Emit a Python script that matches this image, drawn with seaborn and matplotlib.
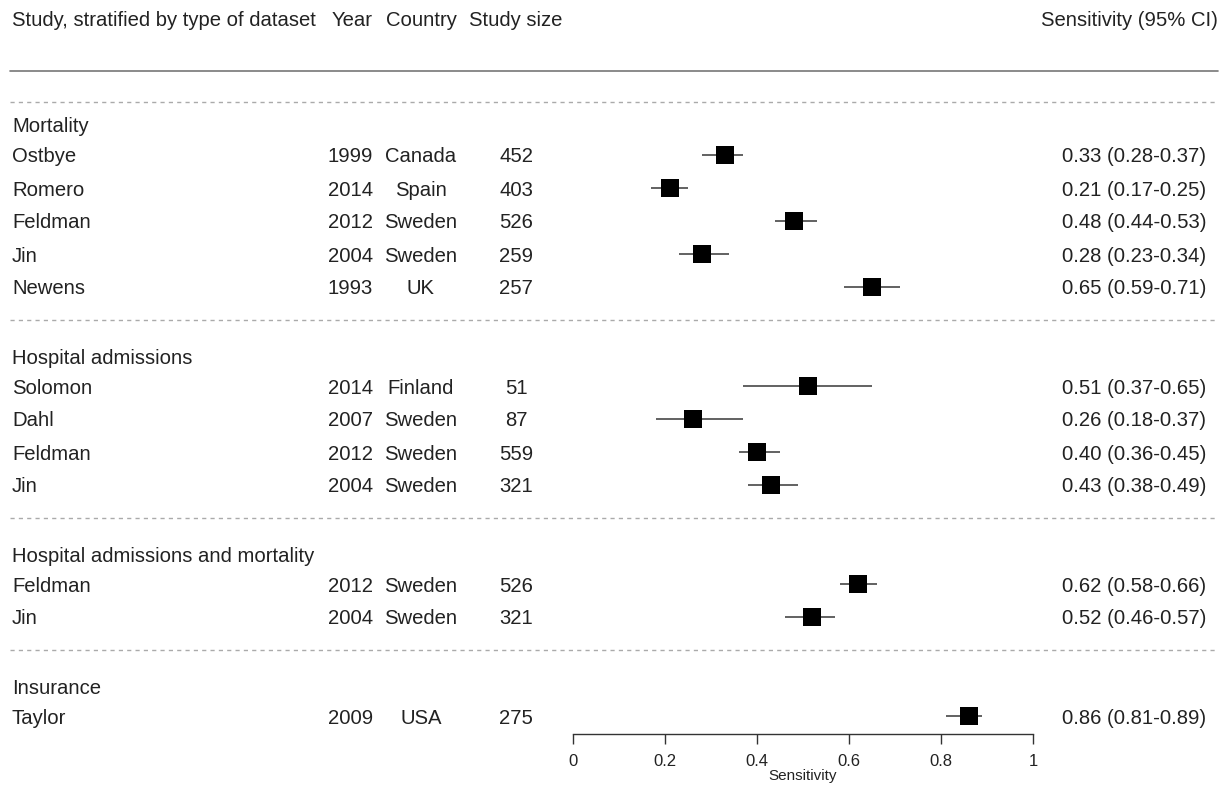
import matplotlib
matplotlib.use("Agg")
import matplotlib.pyplot as plt
import matplotlib.transforms as mtransforms
import seaborn as sns
import pandas as pd
import numpy as np

# ---------------- data ----------------
groups = ["Mortality", "Hospital admissions", "Hospital admissions and mortality", "Insurance"]
group_of = ["Mortality"] * 5 + ["Hospital admissions"] * 4 + ["Hospital admissions and mortality"] * 2 + ["Insurance"]
studies = ["Ostbye", "Romero", "Feldman", "Jin", "Newens",
           "Solomon", "Dahl", "Feldman", "Jin",
           "Feldman", "Jin",
           "Taylor"]
years = [1999, 2014, 2012, 2004, 1993, 2014, 2007, 2012, 2004, 2012, 2004, 2009]
countries = ["Canada", "Spain", "Sweden", "Sweden", "UK",
             "Finland", "Sweden", "Sweden", "Sweden",
             "Sweden", "Sweden", "USA"]
sizes = [452, 403, 526, 259, 257, 51, 87, 559, 321, 526, 321, 275]
sens = [0.33, 0.21, 0.48, 0.28, 0.65, 0.51, 0.26, 0.40, 0.43, 0.62, 0.52, 0.86]
lo = [0.28, 0.17, 0.44, 0.23, 0.59, 0.37, 0.18, 0.36, 0.38, 0.58, 0.46, 0.81]
hi = [0.37, 0.25, 0.53, 0.34, 0.71, 0.65, 0.37, 0.45, 0.49, 0.66, 0.57, 0.89]
xticks = [0, 0.2, 0.4, 0.6, 0.8, 1]
xticklabels = ["0", "0.2", "0.4", "0.6", "0.8", "1"]

# ---------------- layout ----------------
W, H = 1222, 787
sns.set_theme(style="white")
plt.rcParams["font.family"] = ["Liberation Sans", "DejaVu Sans"]
fig = plt.figure(figsize=(W / 100, H / 100), dpi=100)

ax_left, ax_right = 573, 1033
ax_bottom_px = 734
ax = fig.add_axes([ax_left / W, (H - ax_bottom_px) / H, (ax_right - ax_left) / W, ax_bottom_px / H])

ROW0, PITCH = 122, 33  # pixel position of first row and row pitch


def ypos(k):
    return ROW0 + PITCH * k


# assign rows
study_rows, group_rows, sep_rows = [], [], []
k = 0
for gi, g in enumerate(groups):
    if gi > 0:
        sep_rows.append(k)
        k += 1
    group_rows.append(k)
    k += 1
    for i, gg in enumerate(group_of):
        if gg == g:
            study_rows.append((i, k))
            k += 1
study_rows = sorted(study_rows)
ys = [ypos(r) for _, r in study_rows]

df = pd.DataFrame({"study": studies, "year": years, "country": countries, "size": sizes,
                   "sens": sens, "lo": lo, "hi": hi, "y": ys})

ax.set_xlim(0, 1)
ax.set_ylim(ax_bottom_px, 0)

# CI lines
ax.hlines(df["y"], df["lo"], df["hi"], color="#555555", lw=1.3, zorder=2)
# squares
sns.scatterplot(data=df, x="sens", y="y", marker="s", s=175, color="black",
                edgecolor="black", linewidth=0, ax=ax, zorder=3, legend=False)

# axis styling
for s in ["top", "left", "right"]:
    ax.spines[s].set_visible(False)
ax.spines["bottom"].set_color("#333333")
ax.spines["bottom"].set_linewidth(1.0)
ax.set_xticks(xticks)
ax.set_xticklabels(xticklabels)
ax.tick_params(axis="x", direction="out", length=7.5, width=1.0, color="#333333",
               labelsize=12, pad=7, labelcolor="#222222", bottom=True)
ax.set_yticks([])
ax.set_xlabel("Sensitivity", fontsize=11, labelpad=0, color="#222222")
ax.set_ylabel("")

trans = mtransforms.blended_transform_factory(fig.transFigure, ax.transData)
TXT = "#222222"
FS = 14.6
VA = "center_baseline"


def fx(px):
    return px / W


# header
hy = 18
ax.text(fx(12), hy, "Study, stratified by type of dataset", transform=trans, ha="left", va=VA, fontsize=FS, color=TXT)
ax.text(fx(373), hy, "Year", transform=trans, ha="right", va=VA, fontsize=FS, color=TXT)
ax.text(fx(421), hy, "Country", transform=trans, ha="center", va=VA, fontsize=FS, color=TXT)
ax.text(fx(469), hy, "Study size", transform=trans, ha="left", va=VA, fontsize=FS, color=TXT)
ax.text(fx(1218), hy, "Sensitivity (95% CI)", transform=trans, ha="right", va=VA, fontsize=FS, color=TXT)

# solid header line
ax.plot([fx(10), fx(1218)], [71, 71], transform=trans, color="#777777", lw=1.2, clip_on=False)
# dashed separators
dash_ys = [102] + [ypos(r) for r in sep_rows]
for dy in dash_ys:
    ax.plot([fx(10), fx(1218)], [dy, dy], transform=trans, color="#aaaaaa", lw=1.0,
            ls=(0, (3, 3)), clip_on=False)

# group labels
for g, r in zip(groups, group_rows):
    ax.text(fx(12), ypos(r) + 3, g, transform=trans, ha="left", va=VA, fontsize=FS, color=TXT)

# study rows
for _, row in df.iterrows():
    y = row["y"]
    ax.text(fx(12), y, row["study"], transform=trans, ha="left", va=VA, fontsize=FS, color=TXT)
    ax.text(fx(373), y, str(row["year"]), transform=trans, ha="right", va=VA, fontsize=FS, color=TXT)
    ax.text(fx(421), y, row["country"], transform=trans, ha="center", va=VA, fontsize=FS, color=TXT)
    ax.text(fx(516), y, str(row["size"]), transform=trans, ha="center", va=VA, fontsize=FS, color=TXT)
    ax.text(fx(1206), y, f"{row['sens']:.2f} ({row['lo']:.2f}-{row['hi']:.2f})", transform=trans,
            ha="right", va=VA, fontsize=FS, color=TXT)

fig.savefig("out.png", dpi=100)
